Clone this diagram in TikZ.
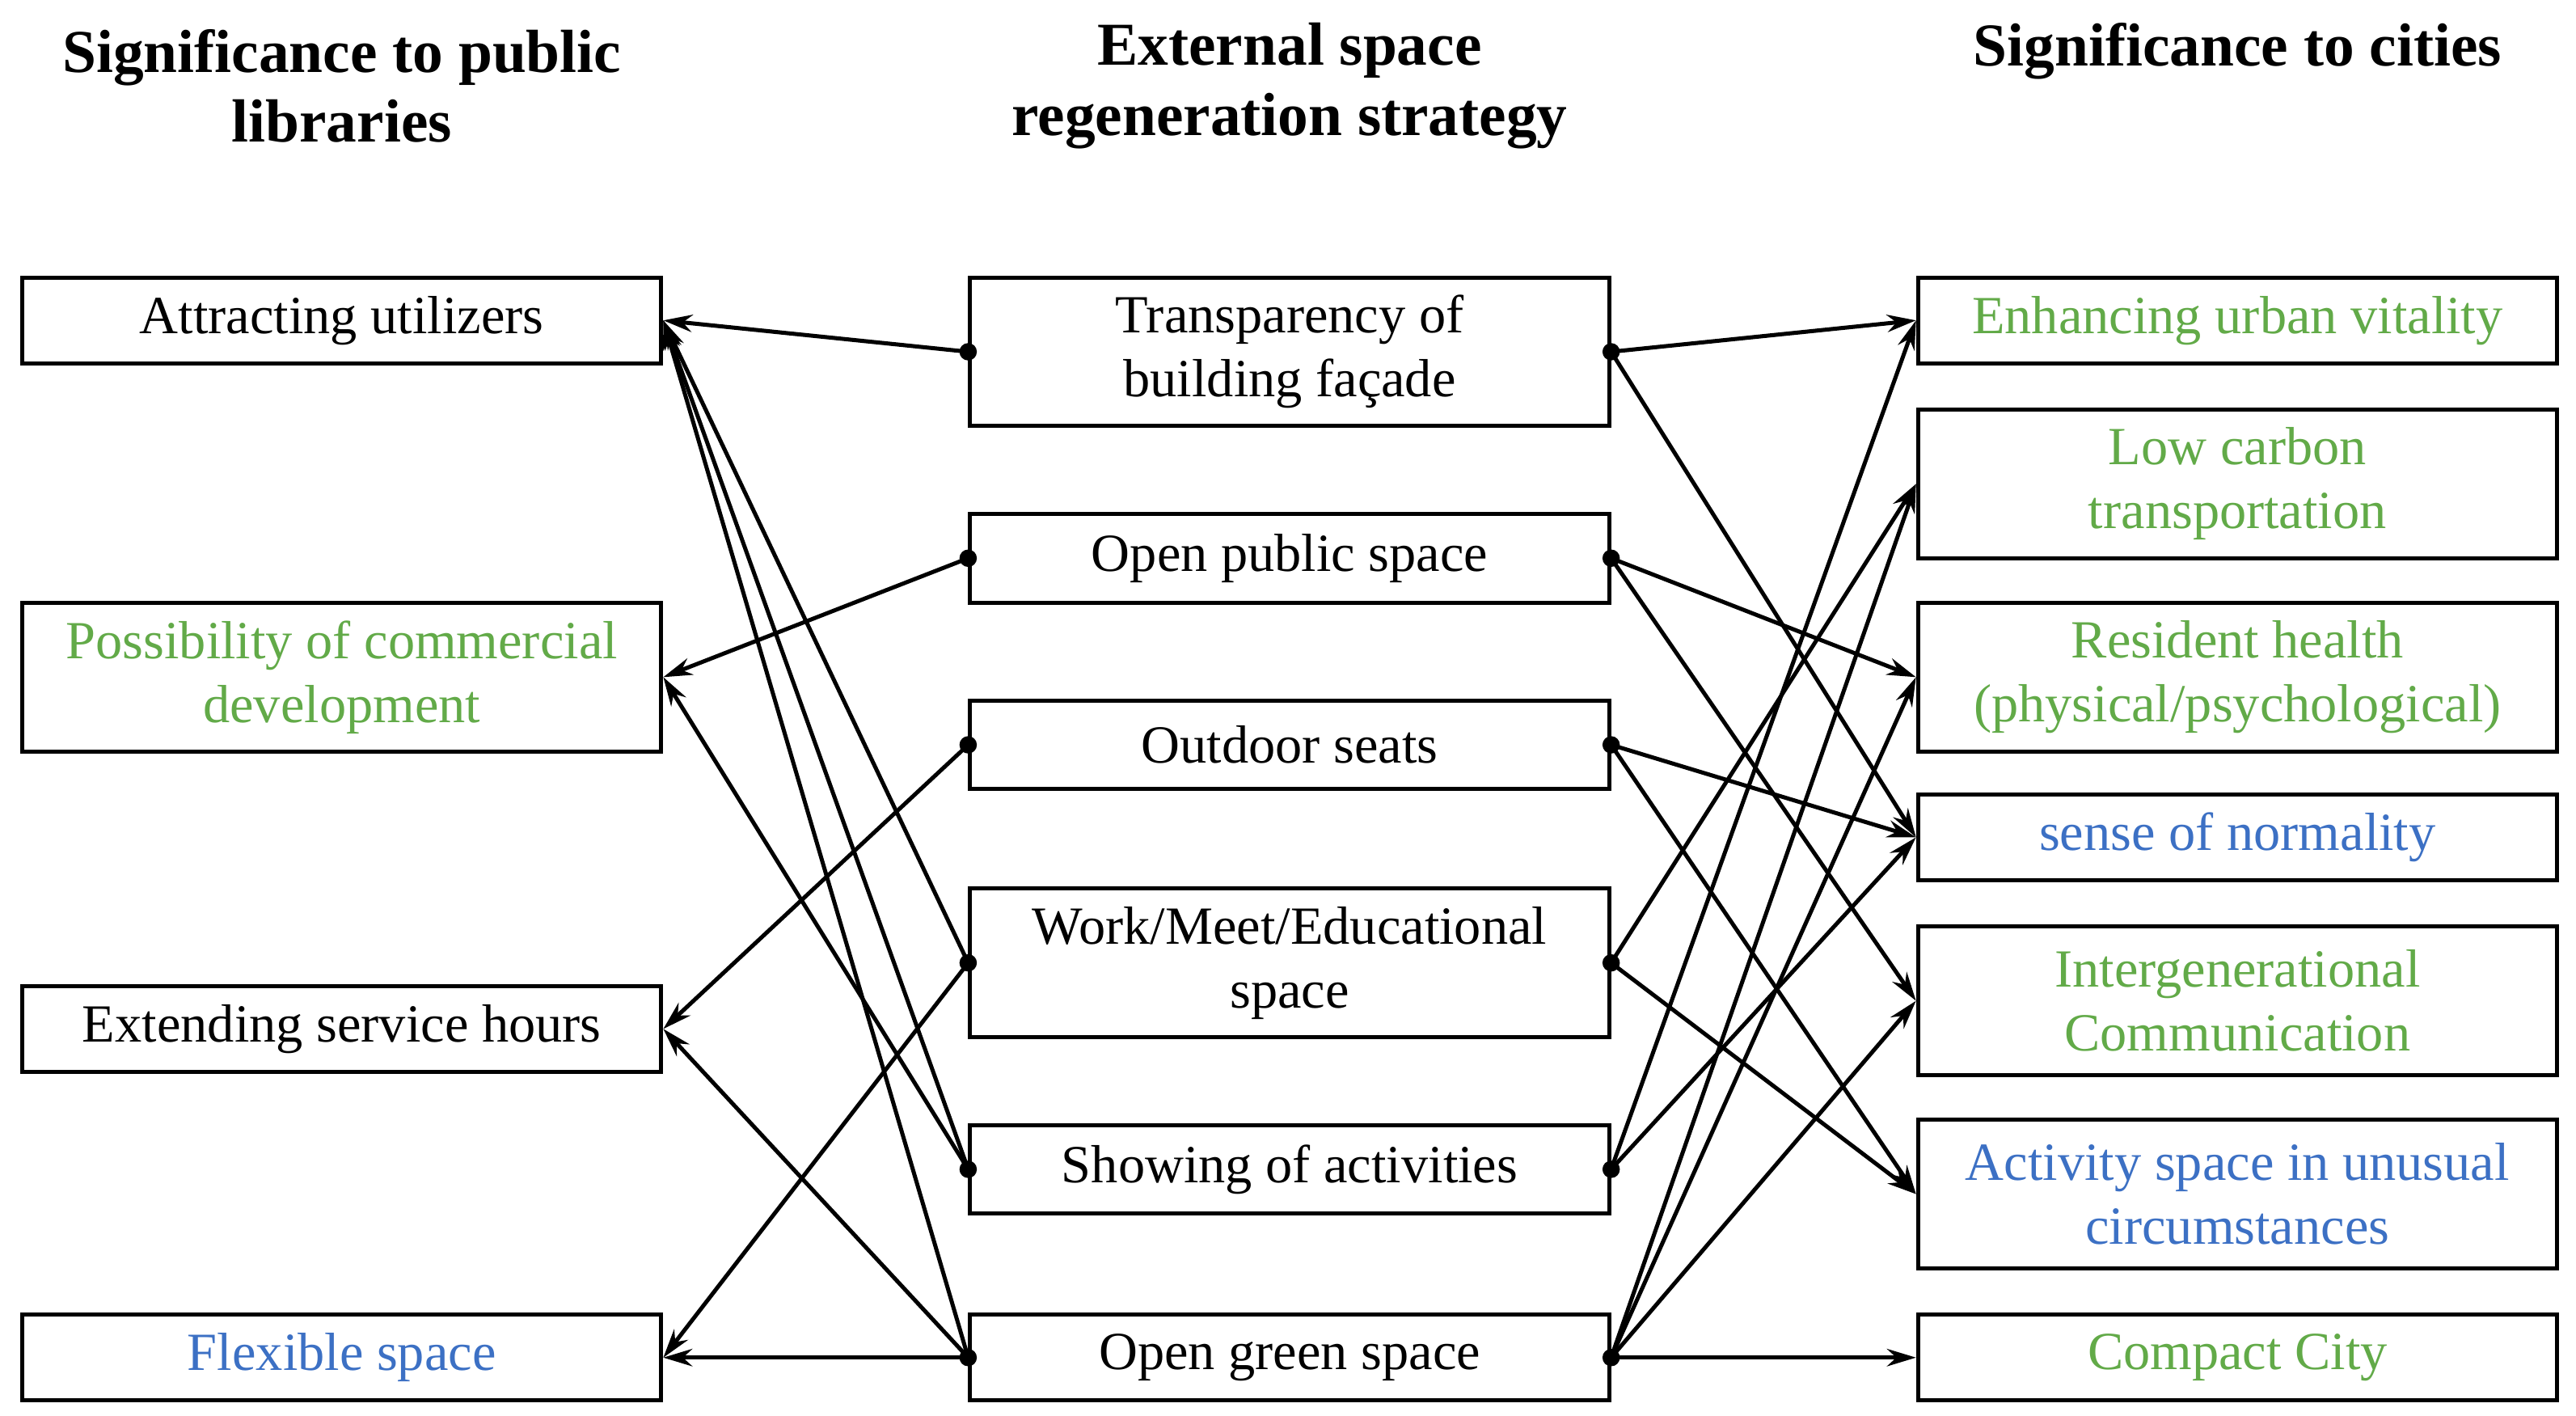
\documentclass[tikz,border=0pt]{standalone}
\usepackage{fontspec}
\setmainfont{Liberation Serif}
\usetikzlibrary{arrows.meta}
\definecolor{gr}{RGB}{98,170,72}
\definecolor{bl}{RGB}{60,112,196}
\begin{document}
\begin{tikzpicture}[x=0.02cm,y=-0.02cm,
 bx/.style={draw,line width=1.4pt,minimum width=7.74cm,align=center,font=\fontsize{18.5}{22}\selectfont,inner sep=2pt},
 hd/.style={align=center,font=\bfseries\fontsize{21}{24}\selectfont},
 con/.style={line width=1.4pt,-{Stealth[length=10pt,width=6pt]}},
 dot/.style={circle,fill,inner sep=0pt,minimum size=6pt}]
\useasboundingbox (0,0) rectangle (1560,857);
\node[hd] (h1) at (207,52) {Significance to public\\libraries};
\node[hd] (h2) at (781,52) {External space\\regeneration strategy};
\node[hd] (h3) at (1355,31) {Significance to cities};
% left
\node[bx,minimum height=1.04cm] (l1) at (207,194) {Attracting utilizers};
\node[bx,minimum height=1.8cm,text=gr] (l2) at (207,410) {Possibility of commercial\\development};
\node[bx,minimum height=1.04cm] (l3) at (207,623) {Extending service hours};
\node[bx,minimum height=1.04cm,text=bl] (l4) at (207,822) {Flexible space};
% middle
\node[bx,minimum height=1.8cm] (m1) at (781,213) {Transparency of\\building façade};
\node[bx,minimum height=1.08cm] (m2) at (781,338) {Open public space};
\node[bx,minimum height=1.06cm] (m3) at (781,451) {Outdoor seats};
\node[bx,minimum height=1.8cm] (m4) at (781,583) {Work/Meet/Educational\\space};
\node[bx,minimum height=1.06cm] (m5) at (781,708) {Showing of activities};
\node[bx,minimum height=1.04cm] (m6) at (781,822) {Open green space};
% right
\node[bx,minimum height=1.04cm,text=gr] (r1) at (1355,194) {Enhancing urban vitality};
\node[bx,minimum height=1.8cm,text=gr] (r2) at (1355,293) {Low carbon\\transportation};
\node[bx,minimum height=1.8cm,text=gr] (r3) at (1355,410) {Resident health\\(physical/psychological)};
\node[bx,minimum height=1.04cm,text=bl] (r4) at (1355,507) {sense of normality};
\node[bx,minimum height=1.8cm,text=gr] (r5) at (1355,606) {Intergenerational\\Communication};
\node[bx,minimum height=1.8cm,text=bl] (r6) at (1355,723) {Activity space in unusual\\circumstances};
\node[bx,minimum height=1.04cm,text=gr] (r7) at (1355,822) {Compact City};
\foreach \m in {m1,m2,m3,m4,m5,m6}{
 \node[dot] (\m w) at (\m.west) {};
 \node[dot] (\m e) at (\m.east) {};
}
% left connectors
\foreach \a/\b in {m1w/l1,m4w/l1,m5w/l1,m6w/l1,m2w/l2,m5w/l2,m3w/l3,m6w/l3,m4w/l4,m6w/l4}
 \draw[con] (\a.center) -- (\b.east);
% right connectors
\foreach \a/\b in {m1e/r1,m1e/r4,m2e/r3,m2e/r5,m3e/r4,m3e/r6,m4e/r2,m4e/r6,m5e/r1,m5e/r4,m6e/r2,m6e/r3,m6e/r5,m6e/r7}
 \draw[con] (\a.center) -- (\b.west);
\end{tikzpicture}
\end{document}
